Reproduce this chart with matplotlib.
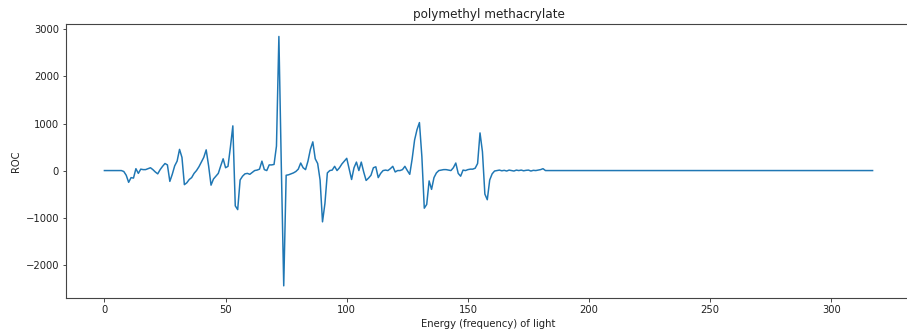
import matplotlib
matplotlib.use("Agg")
import matplotlib.pyplot as plt

# ROC values for energy index 0..317
roc_head = [
    0, 0, 0, 0, 0, 0, 0, 0, -20, -100,            # 0-9
    -250, -150, -160, 40, -60, 30, 20, 20, 40, 60,  # 10-19
    20, -30, -70, 20, 90, 150, 120, -230, -80, 100, # 20-29
    200, 450, 280, -300, -260, -190, -150, -60, 0, 80,  # 30-39
    180, 280, 440, 100, -310, -180, -120, -60, 100, 250,  # 40-49
    60, 90, 500, 950, -750, -830, -200, -120, -70, -60,   # 50-59
    -80, -40, 0, 10, 30, 200, 20, 0, 120, 120,            # 60-69
    130, 520, 2850, 100, -2450, -100, -90, -70, -50, -20, # 70-79
    30, 160, 60, 20, 200, 450, 610, 250, 150, -200,       # 80-89
    -1090, -700, -50, 0, 10, 90, 0, 60, 140, 200,         # 90-99
    260, 30, -190, 60, 180, 0, 180, -30, -210, -160,      # 100-109
    -100, 60, 80, -150, -60, 0, 10, 0, 40, 90,            # 110-119
    -30, 0, 0, 20, 90, 0, -80, 250, 650, 870,             # 120-129
    1020, 300, -800, -720, -220, -400, -150, -50, 0, 10,  # 130-139
    20, 20, 10, 0, 60, 160, -60, -120, 10, 0,             # 140-149
    20, 30, 30, 50, 150, 800, 400, -500, -620, -200,      # 150-159
    -70, -10, 0, 10, -5, 5, -10, 10, 0, -10,              # 160-169
    10, 0, 10, -5, 5, 10, -10, 5, 0, 10,                  # 170-179
    20, 40,                                               # 180-181
]
roc_tail = [0] * (318 - len(roc_head))
roc = roc_head + roc_tail
energy = list(range(len(roc)))

title = "polymethyl methacrylate"
xlabel = "Energy (frequency) of light"
ylabel = "ROC"
xticks = [0, 50, 100, 150, 200, 250, 300]
yticks = [-2000, -1000, 0, 1000, 2000, 3000]

s = 0.72
plt.rcParams.update({
    "font.size": 10 * s,
    "axes.titlesize": 12 * s,
    "axes.labelsize": 10 * s,
    "xtick.labelsize": 10 * s,
    "ytick.labelsize": 10 * s,
    "xtick.major.size": 3.5 * s,
    "ytick.major.size": 3.5 * s,
    "xtick.major.width": 0.8 * s,
    "ytick.major.width": 0.8 * s,
    "xtick.major.pad": 3.5 * s,
    "ytick.major.pad": 3.5 * s,
    "axes.linewidth": 0.8,
    "axes.edgecolor": "#444444",
    "axes.titlepad": 6 * s,
    "axes.labelpad": 4 * s,
    "text.color": "#222222",
    "axes.labelcolor": "#222222",
    "xtick.color": "#222222",
    "ytick.color": "#222222",
})

fig = plt.figure(figsize=(9.07, 3.33), dpi=100)
ax = fig.add_axes([66 / 907, 34.7 / 333, (911 - 66) / 907, (298.3 - 24) / 333])
ax.plot(energy, roc, color="#1f77b4", linewidth=1.5 * s)
ax.set_title(title)
ax.set_xlabel(xlabel)
ax.set_ylabel(ylabel)
ax.set_yticks(yticks)
ax.set_xticks(xticks)
fig.savefig("out.png", dpi=100)
